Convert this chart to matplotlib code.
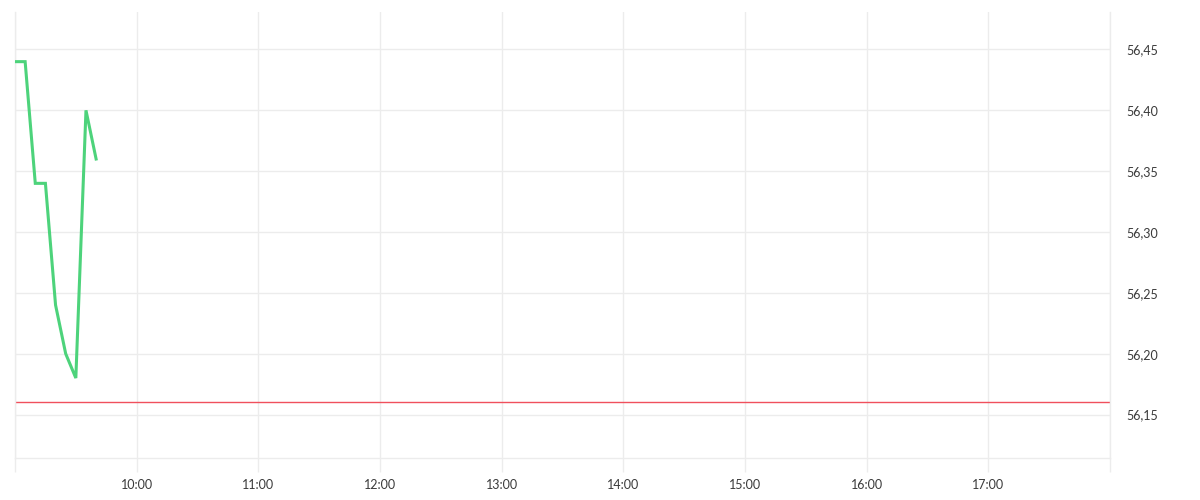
import matplotlib
matplotlib.use("Agg")
import matplotlib.pyplot as plt
from matplotlib.ticker import FuncFormatter, FixedLocator

# price series, 5-minute steps from 9:00
times = ["9:00", "9:05", "9:10", "9:15", "9:20", "9:25", "9:30", "9:35", "9:40"]
prices = [56.44, 56.44, 56.34, 56.34, 56.24, 56.20, 56.18, 56.40, 56.36]
ref_price = 56.16
hour_ticks = [9, 10, 11, 12, 13, 14, 15, 16, 17, 18]
hour_labels = ["", "10:00", "11:00", "12:00", "13:00", "14:00", "15:00", "16:00", "17:00", ""]
price_ticks = [56.15, 56.20, 56.25, 56.30, 56.35, 56.40, 56.45]


def to_hours(t):
    h, m = t.split(":")
    return int(h) + int(m) / 60


grid_col = "#ececec"
plt.rcParams['font.family'] = ['Lato', 'DejaVu Sans']

fig = plt.figure(figsize=(12, 5), dpi=100)
ax = fig.add_axes([15 / 1200, 1 - 458 / 500, 1095 / 1200, 446 / 500])

x = [to_hours(t) for t in times]
ax.plot(x, prices, color="#4dd37b", lw=2.2, solid_joinstyle="miter", zorder=3)
ax.axhline(ref_price, color="#f0505c", lw=1, zorder=2)

ax.set_xlim(9, 18)
ax.set_ylim(56.1143, 56.4808)

ax.xaxis.set_major_locator(FixedLocator(hour_ticks))
ax.set_xticklabels(hour_labels)
ax.yaxis.set_major_locator(FixedLocator(price_ticks))
ax.yaxis.set_major_formatter(FuncFormatter(lambda v, p: f"{v:.2f}".replace(".", ",")))
ax.yaxis.tick_right()

ax.grid(True, color=grid_col, lw=1)
ax.tick_params(axis="x", length=10, width=1, color=grid_col, labelsize=9, labelcolor="#3a3a3a", pad=5)
ax.tick_params(axis="y", length=0, labelsize=9, labelcolor="#3a3a3a", pad=12)

for side in ["left", "right", "bottom"]:
    ax.spines[side].set_color(grid_col)
    ax.spines[side].set_linewidth(1)
ax.spines["top"].set_visible(False)

fig.savefig("out.png", dpi=100)
